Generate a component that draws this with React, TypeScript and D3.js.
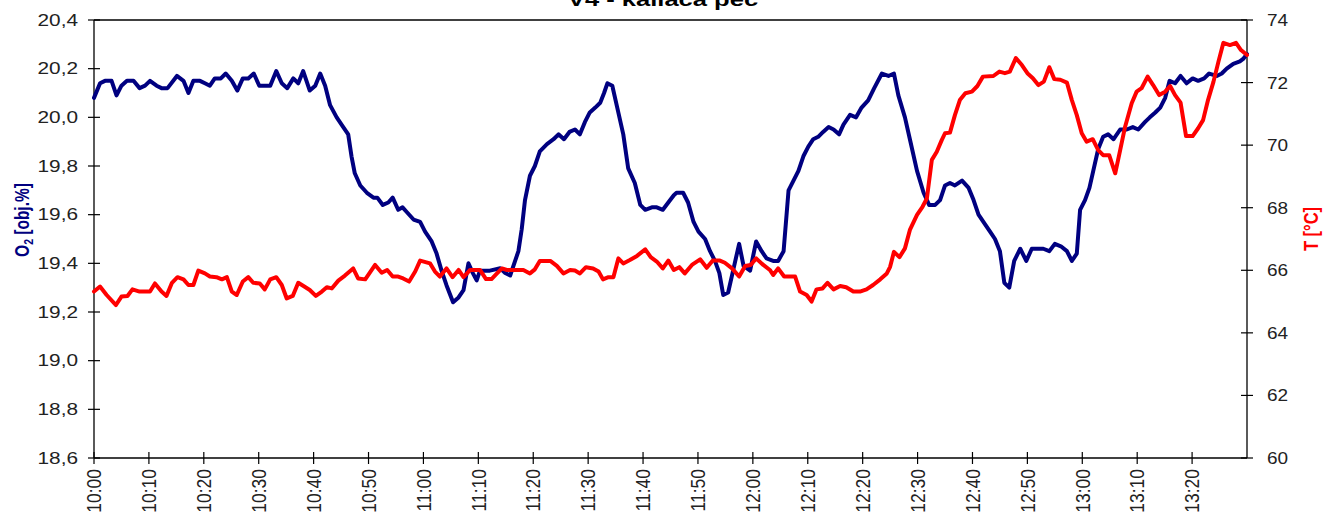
import React from "react";
import * as d3 from "d3";

// Furnace V4 log: oxygen content (left axis) and temperature (right axis)
const chartTitle = "V4 - kaliaca pec";

const xTickLabels = [
  "10:00", "10:10", "10:20", "10:30", "10:40", "10:50",
  "11:00", "11:10", "11:20", "11:30", "11:40", "11:50",
  "12:00", "12:10", "12:20", "12:30", "12:40", "12:50",
  "13:00", "13:10", "13:20",
];
const o2Ticks = [18.6, 18.8, 19.0, 19.2, 19.4, 19.6, 19.8, 20.0, 20.2, 20.4];
const tempTicks = [60, 62, 64, 66, 68, 70, 72, 74];

// minutes after 10:00
const o2Minutes = [
  0, 1.1, 2, 3.2, 4.1, 5, 6, 7.2, 8.3, 9.3, 10.2, 11.4, 12.3, 13.4, 15.1, 16.3, 17.2, 18.1, 19.3, 20.2,
  21.1, 22, 23.1, 24, 25.1, 26.1, 27.1, 28.1, 29.1, 30.1, 31.1, 32.1, 33.2, 34.2, 35.2, 36.3, 37.2, 38.1, 39.3, 40.3,
  41.2, 42.1, 43, 44.2, 45.4, 46.3, 46.9, 47.5, 48.5, 49.7, 50.9, 51.6, 52.6, 53.6, 54.4, 55.4, 56.2, 57, 58.2, 59.4,
  60.3, 61.5, 62.4, 63.3, 64.2, 65.4, 66.4, 67.3, 68.2, 69, 69.7, 70.3, 72.1, 74, 74.9, 75.8, 76.7, 77.3, 77.9, 78.5,
  79.4, 80.3, 81.2, 82.5, 83.7, 84.6, 85.6, 86.6, 87.6, 88.5, 89.4, 90.3, 91.3, 92.2, 92.9, 93.5, 94.4, 95.3, 96.4, 97.3,
  98.5, 99.5, 100.4, 101.6, 102.5, 103.6, 104.6, 105.6, 106.1, 107.3, 108.2, 109.2, 110.1, 111.3, 112.2, 113.1, 113.9, 114.6, 115.5, 116.4,
  117.5, 118.3, 119.5, 120.6, 121.6, 122.5, 123.7, 124.6, 125.6, 126.5, 127.4, 128.3, 129.2, 130.1, 131, 131.9, 132.8, 133.8, 134.7, 135.7,
  136.5, 137.7, 138.8, 139.8, 141, 142.1, 143.5, 144.7, 145.7, 146.5, 147.7, 148.6, 149.9, 151.1, 152.1, 153.2, 154.1, 155, 155.9, 156.8,
  158.1, 159.3, 160.2, 161.1, 162.3, 163.2, 164.1, 165, 165.8, 166.7, 167.6, 168.7, 169.8, 170.8, 172, 172.9, 174, 175, 176.1, 177.2,
  178.1, 179, 179.6, 180.5, 181.3, 182, 182.9, 183.8, 184.7, 185.7, 186.9, 188.1, 189.2, 190.2, 191.4, 192.3, 193.3, 194.2, 195.1, 195.9,
  196.9, 197.9, 199, 200.1, 201.1, 202.2, 203.1, 204.5, 205.4, 206.3, 207.5, 208.7, 209.3, 210,
];
const o2Values = [
  20.08, 20.14, 20.15, 20.15, 20.09, 20.13, 20.15, 20.15, 20.12, 20.13, 20.15, 20.13, 20.12, 20.12, 20.17, 20.15, 20.10, 20.15, 20.15, 20.14,
  20.13, 20.16, 20.16, 20.18, 20.15, 20.11, 20.16, 20.16, 20.18, 20.13, 20.13, 20.13, 20.19, 20.14, 20.12, 20.16, 20.14, 20.19, 20.11, 20.13,
  20.18, 20.13, 20.05, 20.00, 19.96, 19.93, 19.84, 19.77, 19.72, 19.69, 19.67, 19.67, 19.64, 19.65, 19.67, 19.62, 19.63, 19.61, 19.58, 19.57,
  19.53, 19.49, 19.44, 19.37, 19.31, 19.24, 19.26, 19.29, 19.40, 19.36, 19.33, 19.37, 19.37, 19.38, 19.36, 19.35, 19.41, 19.45, 19.54, 19.66,
  19.76, 19.80, 19.86, 19.89, 19.91, 19.93, 19.91, 19.94, 19.95, 19.93, 19.98, 20.02, 20.04, 20.06, 20.10, 20.14, 20.13, 20.04, 19.93, 19.79,
  19.73, 19.64, 19.62, 19.63, 19.63, 19.62, 19.65, 19.68, 19.69, 19.69, 19.65, 19.57, 19.53, 19.50, 19.45, 19.41, 19.36, 19.27, 19.28, 19.37,
  19.48, 19.39, 19.37, 19.49, 19.45, 19.42, 19.41, 19.41, 19.45, 19.70, 19.74, 19.78, 19.84, 19.88, 19.91, 19.92, 19.94, 19.96, 19.95, 19.93,
  19.97, 20.01, 20.00, 20.04, 20.07, 20.12, 20.18, 20.17, 20.18, 20.09, 20.00, 19.91, 19.78, 19.69, 19.64, 19.64, 19.66, 19.72, 19.73, 19.72,
  19.74, 19.71, 19.66, 19.60, 19.56, 19.53, 19.50, 19.45, 19.32, 19.30, 19.41, 19.46, 19.41, 19.46, 19.46, 19.46, 19.45, 19.48, 19.47, 19.45,
  19.41, 19.44, 19.62, 19.66, 19.71, 19.78, 19.87, 19.92, 19.93, 19.91, 19.95, 19.95, 19.96, 19.95, 19.98, 20.00, 20.02, 20.04, 20.08, 20.15,
  20.14, 20.17, 20.14, 20.16, 20.15, 20.16, 20.18, 20.17, 20.18, 20.20, 20.22, 20.23, 20.24, 20.26,
];

const tempMinutes = [
  0, 1.1, 2.3, 4, 5, 6.1, 7, 8.3, 10.2, 11.1, 12.3, 13.2, 14.2, 15.2, 16.3, 17.2, 18.1, 19, 20.2, 21.1,
  22.3, 23.3, 24.2, 25.1, 26, 27.1, 28.1, 29, 30.2, 31.1, 32.1, 33.2, 34.2, 35.1, 36.2, 37.2, 38.3, 39.3, 40.4, 41.5,
  42.4, 43.3, 44.5, 45.7, 47.2, 48.1, 49.4, 51.2, 52.4, 53.4, 54.4, 55.4, 56.3, 57.4, 58.5, 59.4, 61.2, 62.1, 63, 64.2,
  65.3, 66.4, 67.3, 68.5, 70.3, 71.4, 72.4, 73.4, 74.3, 75.2, 78.2, 79.4, 80.3, 81.2, 83.1, 84.3, 85.5, 86.7, 87.6, 88.5,
  89.6, 90.9, 91.9, 92.7, 93.7, 94.6, 95.5, 96.4, 97.6, 98.9, 100.4, 101.4, 102.5, 103.6, 104.6, 105.6, 106.6, 107.6, 108.9, 110.4,
  111.6, 112.7, 114, 114.9, 116.2, 117.5, 118.6, 119.6, 120.6, 121.9, 123.1, 123.7, 124.6, 125.7, 127.7, 128.6, 129.8, 130.7, 131.6, 132.7,
  133.6, 134.7, 135.9, 137, 138.3, 139.5, 140.7, 141.9, 143.2, 144.4, 145, 145.7, 146.7, 147.7, 148.6, 149.9, 150.9, 151.7, 152.6, 153.5,
  154.4, 155, 155.9, 156.8, 157.7, 158.7, 159.9, 160.9, 161.9, 163.8, 164.9, 165.9, 166.8, 167.9, 169, 170, 171, 172, 173, 174,
  174.9, 176, 177.2, 178.1, 179, 179.9, 180.8, 181.9, 182.9, 183.8, 184.9, 186, 186.9, 187.8, 189, 189.9, 190.8, 191.9, 192.9, 194,
  195.1, 196, 196.9, 197.9, 198.9, 200.1, 201.1, 202, 202.9, 203.9, 204.8, 205.7, 206.9, 208, 208.9, 210,
];
const tempValues = [
  65.32, 65.48, 65.21, 64.89, 65.16, 65.18, 65.39, 65.32, 65.32, 65.58, 65.32, 65.18, 65.60, 65.78, 65.71, 65.53, 65.53, 65.99, 65.90, 65.80,
  65.78, 65.71, 65.78, 65.32, 65.21, 65.64, 65.78, 65.60, 65.58, 65.39, 65.71, 65.78, 65.53, 65.10, 65.18, 65.60, 65.48, 65.37, 65.18, 65.32,
  65.46, 65.42, 65.67, 65.83, 66.06, 65.74, 65.71, 66.17, 65.92, 66.01, 65.80, 65.80, 65.74, 65.64, 65.96, 66.31, 66.22, 65.96, 65.80, 66.06,
  65.78, 66.01, 65.78, 66.01, 66.01, 65.72, 65.72, 65.90, 66.06, 66.01, 66.01, 65.90, 66.03, 66.30, 66.30, 66.14, 65.90, 66.01, 65.99, 65.90,
  66.10, 66.06, 65.96, 65.71, 65.78, 65.78, 66.38, 66.22, 66.33, 66.46, 66.67, 66.42, 66.28, 66.06, 66.31, 66.01, 66.10, 65.90, 66.17, 66.35,
  66.08, 66.31, 66.31, 66.24, 66.06, 65.80, 66.14, 66.17, 66.38, 66.17, 66.01, 65.85, 66.06, 65.80, 65.80, 65.32, 65.21, 65.00, 65.39, 65.42,
  65.60, 65.39, 65.50, 65.46, 65.32, 65.32, 65.39, 65.53, 65.71, 65.90, 66.11, 66.59, 66.42, 66.70, 67.29, 67.77, 68.03, 68.30, 69.53, 69.79,
  70.16, 70.38, 70.40, 70.96, 71.44, 71.66, 71.71, 71.89, 72.19, 72.21, 72.35, 72.30, 72.35, 72.78, 72.56, 72.30, 72.14, 71.92, 72.03, 72.49,
  72.11, 72.09, 72.00, 71.44, 70.96, 70.38, 70.11, 70.19, 69.84, 69.68, 69.68, 69.10, 69.84, 70.59, 71.34, 71.71, 71.82, 72.19, 71.92, 71.60,
  71.71, 71.89, 71.60, 71.36, 70.29, 70.29, 70.54, 70.80, 71.44, 72.03, 72.67, 73.27, 73.20, 73.27, 73.04, 72.88,
];

const W = 1325;
const H = 512;
const plot = { left: 94, right: 1247, top: 20, bottom: 458 };

const x = d3.scaleLinear().domain([0, 210]).range([plot.left, plot.right]);
const yO2 = d3.scaleLinear().domain([18.6, 20.4]).range([plot.bottom, plot.top]);
const yT = d3.scaleLinear().domain([60, 74]).range([plot.bottom, plot.top]);

const o2Data = o2Minutes.map((m, i) => [m, o2Values[i]] as [number, number]);
const tempData = tempMinutes.map((m, i) => [m, tempValues[i]] as [number, number]);

const o2Line = d3.line<[number, number]>().x((d) => x(d[0])).y((d) => yO2(d[1]));
const tempLine = d3.line<[number, number]>().x((d) => x(d[0])).y((d) => yT(d[1]));

const fmtComma = (v: number) => d3.format(".1f")(v).replace(".", ",");

const FONT = "Arial, 'Liberation Sans', sans-serif";
const NAVY = "#000080";
const RED = "#ff0000";
const TEXT = "#222";

export default function App() {
  return (
    <svg
      width={W}
      height={H}
      style={{ position: "absolute", left: 0, top: 0, background: "#fff" }}
      fontFamily={FONT}
    >
      <rect x={0} y={0} width={W} height={H} fill="#fff" />

      {/* title, partly above the top edge */}
      <text
        transform={`translate(663,5.5) scale(1.42,1)`}
        textAnchor="middle"
        fontSize={18}
        fontWeight="bold"
        fill="#000"
      >
        {chartTitle}
      </text>

      {/* plot frame */}
      <line x1={plot.left} x2={plot.right} y1={plot.top} y2={plot.top} stroke="#000" strokeWidth={1.3} />
      <line x1={plot.left} x2={plot.left} y1={plot.top} y2={plot.bottom} stroke="#000" strokeWidth={1.3} />
      <line x1={plot.right} x2={plot.right} y1={plot.top} y2={plot.bottom} stroke="#000" strokeWidth={1.3} />
      <line x1={plot.left} x2={plot.right} y1={plot.bottom} y2={plot.bottom} stroke="#000" strokeWidth={1.3} />

      {/* left axis */}
      {o2Ticks.map((t) => (
        <g key={`l${t}`}>
          <line x1={plot.left - 6} x2={plot.left + 6} y1={yO2(t)} y2={yO2(t)} stroke="#000" strokeWidth={1.2} />
          <text
            transform={`translate(78,${yO2(t)}) scale(1.3,1)`}
            textAnchor="end"
            dy="0.36em"
            fontSize={16}
            fill={TEXT}
          >
            {fmtComma(t)}
          </text>
        </g>
      ))}

      {/* right axis */}
      {tempTicks.map((t) => (
        <g key={`r${t}`}>
          <line x1={plot.right - 6} x2={plot.right + 6} y1={yT(t)} y2={yT(t)} stroke="#000" strokeWidth={1.2} />
          <text
            transform={`translate(1267,${yT(t)}) scale(1.15,1)`}
            textAnchor="start"
            dy="0.36em"
            fontSize={16.5}
            fill={TEXT}
          >
            {t}
          </text>
        </g>
      ))}

      {/* time axis */}
      {xTickLabels.map((lab, i) => {
        const px = x(i * 10);
        return (
          <g key={`x${lab}`}>
            <line x1={px} x2={px} y1={plot.bottom - 6} y2={plot.bottom + 6} stroke="#000" strokeWidth={1.2} />
            <text
              transform={`translate(${px},469) scale(1.15,1) rotate(-90)`}
              textAnchor="end"
              dy="0.36em"
              fontSize={17.5}
              fill={TEXT}
            >
              {lab}
            </text>
          </g>
        );
      })}

      {/* axis titles */}
      <text
        transform={`translate(22,220) scale(1.25,1) rotate(-90)`}
        textAnchor="middle"
        dy="0.36em"
        fontSize={15.5}
        fontWeight="bold"
        fill={NAVY}
      >
        O
        <tspan fontSize={10.5} dy="0.3em">2</tspan>
        <tspan dy="-0.2em"> [obj.%]</tspan>
      </text>
      <text
        transform={`translate(1311,229) scale(1.2,1) rotate(-90)`}
        textAnchor="middle"
        dy="0.36em"
        fontSize={16.5}
        fontWeight="bold"
        fill={RED}
      >
        T [°C]
      </text>

      {/* series */}
      <path d={o2Line(o2Data) ?? ""} fill="none" stroke={NAVY} strokeWidth={4} strokeLinejoin="round" strokeLinecap="round" />
      <path d={tempLine(tempData) ?? ""} fill="none" stroke={RED} strokeWidth={4} strokeLinejoin="round" strokeLinecap="round" />
    </svg>
  );
}
